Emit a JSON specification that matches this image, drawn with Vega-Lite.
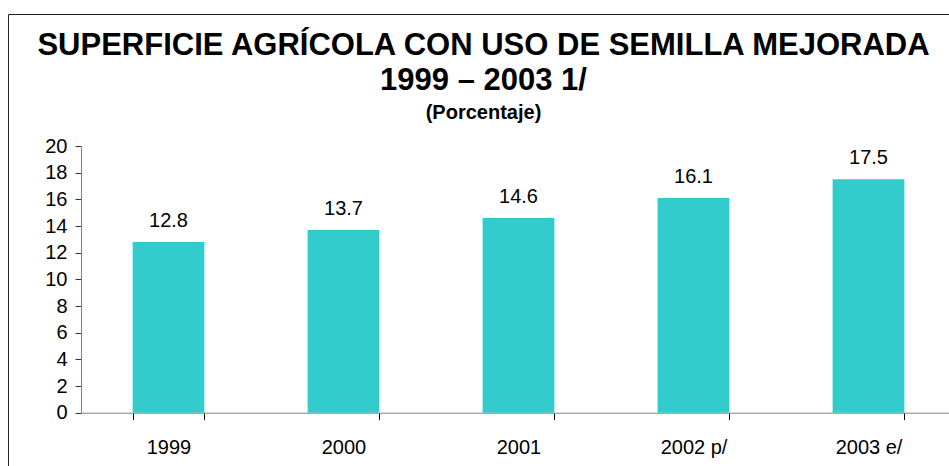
{
  "$schema": "https://vega.github.io/schema/vega-lite/v6.json",
  "autosize": {"type": "none"},
  "padding": {"left": 8, "top": 14, "right": 0, "bottom": 0},
  "width": 941,
  "height": 452,
  "background": "white",
  "config": {
    "view": {"stroke": "#222222", "strokeWidth": 1},
    "font": "Liberation Sans"
  },
  "title": {
    "text": ["SUPERFICIE AGRÍCOLA CON USO DE SEMILLA MEJORADA", "1999 – 2003 1/"],
    "subtitle": "(Porcentaje)",
    "anchor": "middle",
    "frame": "group",
    "dx": 5,
    "font": "Liberation Sans",
    "fontSize": 31,
    "fontWeight": "bold",
    "color": "black",
    "lineHeight": 35,
    "subtitleFont": "Liberation Sans",
    "subtitleFontSize": 20,
    "subtitleFontWeight": "bold",
    "subtitleColor": "black",
    "subtitlePadding": 6,
    "offset": -110
  },
  "data": {
    "values": [
      {"year": "1999", "value": 12.8},
      {"year": "2000", "value": 13.7},
      {"year": "2001", "value": 14.6},
      {"year": "2002 p/", "value": 16.1},
      {"year": "2003 e/", "value": 17.5}
    ]
  },
  "encoding": {
    "x": {
      "field": "year",
      "type": "nominal",
      "sort": null,
      "scale": {"range": [73, 948], "paddingInner": 0.59, "paddingOuter": 0.295},
      "axis": {
        "orient": "bottom",
        "offset": -53.3,
        "tickBand": "extent",
        "labelAngle": 0,
        "title": null,
        "domainColor": "#808080",
        "tickColor": "black",
        "tickSize": 7,
        "labelFont": "Liberation Sans",
        "labelFontSize": 20,
        "labelColor": "black",
        "labelPadding": 18
      }
    },
    "y": {
      "field": "value",
      "type": "quantitative",
      "scale": {"domain": [0, 20], "range": [398.7, 132], "nice": false},
      "axis": {
        "orient": "left",
        "offset": -73,
        "values": [0, 2, 4, 6, 8, 10, 12, 14, 16, 18, 20],
        "title": null,
        "grid": false,
        "domainColor": "#808080",
        "tickColor": "#333333",
        "tickSize": 6,
        "labelFont": "Liberation Sans",
        "labelFontSize": 20,
        "labelColor": "black",
        "labelPadding": 8
      }
    }
  },
  "layer": [
    {"mark": {"type": "bar", "color": "#33CCCC"}},
    {
      "mark": {"type": "text", "dy": -15, "baseline": "alphabetic", "fontSize": 20, "font": "Liberation Sans", "color": "black"},
      "encoding": {"text": {"field": "value", "type": "quantitative", "format": ".1f"}}
    }
  ]
}
